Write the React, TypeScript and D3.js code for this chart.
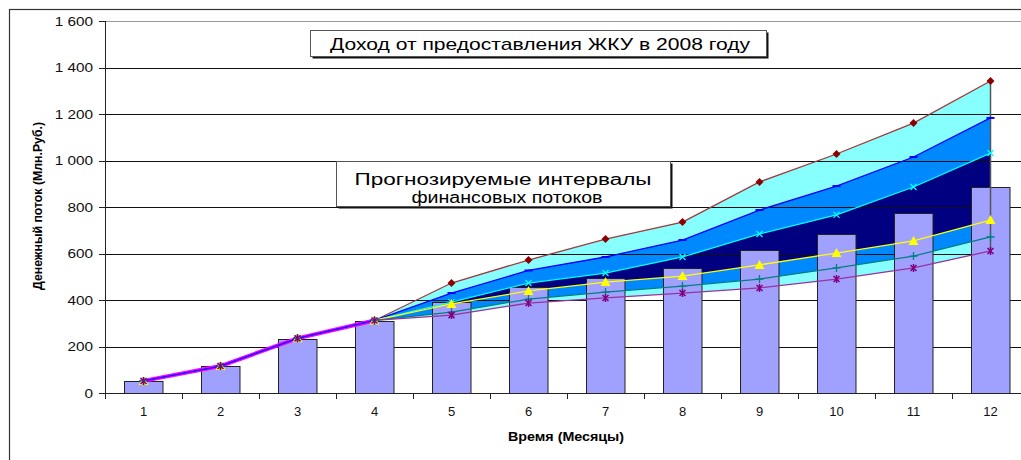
import React, { useRef, useEffect } from 'react';
import * as d3 from 'd3';

const months = [1, 2, 3, 4, 5, 6, 7, 8, 9, 10, 11, 12];
const income = [50, 114, 232, 310, 392, 456, 495, 538, 615, 684, 774, 886];

const upperMax = [52, 116, 235, 312, 473, 572, 662, 735, 908, 1028, 1161, 1342];
const upperMid = [52, 116, 235, 312, 430, 527, 585, 658, 787, 890, 1015, 1183];
const upperLow = [52, 116, 235, 312, 391, 473, 516, 585, 684, 766, 886, 1032];
const lowerHigh = [52, 116, 235, 312, 383, 439, 477, 503, 551, 602, 654, 744];
const lowerMid = [52, 116, 235, 312, 348, 404, 434, 460, 490, 538, 589, 671];
const lowerMin = [52, 116, 235, 312, 335, 387, 409, 430, 452, 490, 538, 611];

const yTicks = [0, 200, 400, 600, 800, 1000, 1200, 1400, 1600];

const series = [
    { values: upperMax, fill: '#88ffff', line: '#a03a3a', marker: 'diamond', mcolor: '#8b0000' },
    { values: upperMid, fill: '#0088ff', line: '#0000ff', marker: 'dash', mcolor: '#0000ff' },
    { values: upperLow, fill: '#000080', line: '#00ffff', marker: 'x', mcolor: '#00ffff' },
    { values: lowerHigh, fill: '#0088ff', line: '#ffff00', marker: 'triangle', mcolor: '#ffff00' },
    { values: lowerMid, fill: '#88ffff', line: '#008080', marker: 'plus', mcolor: '#008080' },
    { values: lowerMin, fill: '#ffffff', line: '#993399', marker: 'star', mcolor: '#800080' },
];

const fmt = (v: number) => d3.format(',')(v).replace(/,/g, ' ');

const W = 1021, H = 460;
const FONT = 'Arial, "Liberation Sans", sans-serif';

const App = () => {
    const svgRef = useRef<SVGSVGElement>(null);

    useEffect(() => {
        const svg = d3.select(svgRef.current);
        svg.selectAll('*').remove();

        const x = d3.scaleBand<number>()
            .domain(months)
            .range([105, 105 + 12 * 77])
            .paddingInner(0.5)
            .paddingOuter(0.25);
        const cx = (m: number) => (x(m) as number) + x.bandwidth() / 2;
        const y = d3.scaleLinear().domain([0, 1600]).range([393, 21]);

        // outer frame
        svg.append('rect').attr('x', 9.5).attr('y', 9.5).attr('width', 1100).attr('height', 600)
            .attr('fill', 'white').attr('stroke', '#333').attr('stroke-width', 1.2);

        // forecast areas, each filled down to zero
        series.forEach(s => {
            const area = d3.area<number>()
                .x((d, i) => cx(months[i]))
                .y0(y(0))
                .y1(d => y(d));
            svg.append('path').attr('d', area(s.values)).attr('fill', s.fill);
        });

        // gridlines
        svg.append('g').selectAll('line').data(yTicks).enter().append('line')
            .attr('x1', 105).attr('x2', W)
            .attr('y1', d => Math.round(y(d)) + 0.5).attr('y2', d => Math.round(y(d)) + 0.5)
            .attr('stroke', d => d === 1600 ? '#999' : '#111').attr('stroke-width', 1);

        // bars
        svg.append('g').selectAll('rect').data(income).enter().append('rect')
            .attr('x', (d, i) => Math.round(x(months[i]) as number) + 0.5)
            .attr('y', d => Math.round(y(d)) + 0.5)
            .attr('width', x.bandwidth())
            .attr('height', d => y(0) - Math.round(y(d)))
            .attr('fill', '#a0a0ff')
            .attr('stroke', '#222').attr('stroke-width', 1);

        // edge of areas at last month
        const last = months.length - 1;
        svg.append('line')
            .attr('x1', cx(months[last])).attr('x2', cx(months[last]))
            .attr('y1', y(upperMax[last])).attr('y2', y(lowerMin[last]))
            .attr('stroke', '#555').attr('stroke-width', 1.5);

        // axes
        const axisG = svg.append('g');
        axisG.append('line').attr('x1', 105.5).attr('x2', 105.5).attr('y1', 21).attr('y2', 396)
            .attr('stroke', '#222');
        axisG.append('line').attr('x1', 105).attr('x2', W).attr('y1', 393.5).attr('y2', 393.5)
            .attr('stroke', '#222');
        axisG.selectAll('.yt').data(yTicks).enter().append('line')
            .attr('x1', 99).attr('x2', 105)
            .attr('y1', d => Math.round(y(d)) + 0.5).attr('y2', d => Math.round(y(d)) + 0.5)
            .attr('stroke', '#222');
        axisG.selectAll('.ytl').data(yTicks).enter().append('text')
            .attr('transform', d => `translate(93,${y(d) + 4.5}) scale(1.18,1)`)
            .attr('text-anchor', 'end')
            .attr('font-family', FONT).attr('font-size', 13).attr('fill', '#111')
            .text(d => fmt(d));
        axisG.selectAll('.xt').data(months).enter().append('line')
            .attr('x1', d => Math.round((x(d) as number) - x.step() * 0.25) + 0.5)
            .attr('x2', d => Math.round((x(d) as number) - x.step() * 0.25) + 0.5)
            .attr('y1', 393).attr('y2', 399)
            .attr('stroke', '#222');
        axisG.selectAll('.xtl').data(months).enter().append('text')
            .attr('x', d => cx(d)).attr('y', 416)
            .attr('text-anchor', 'middle')
            .attr('font-family', FONT).attr('font-size', 13).attr('fill', '#111')
            .text(d => d);

        // lines
        const line = d3.line<number>().x((d, i) => cx(months[i])).y(d => y(d));
        series.forEach(s => {
            svg.append('path').attr('d', line(s.values)).attr('fill', 'none')
                .attr('stroke', s.line).attr('stroke-width', 1.3);
        });
        svg.append('path').attr('d', line(lowerMin.slice(0, 4))).attr('fill', 'none')
            .attr('stroke', '#ff00ff').attr('stroke-width', 4);
        svg.append('path').attr('d', line(upperMid.slice(0, 4))).attr('fill', 'none')
            .attr('stroke', '#0000ff').attr('stroke-width', 1.3);

        // markers
        series.forEach(s => {
            const g = svg.append('g');
            s.values.forEach((v, i) => {
                const px = cx(months[i]), py = y(v);
                if (s.marker === 'diamond') {
                    g.append('path').attr('d', `M${px},${py - 4}L${px + 4},${py}L${px},${py + 4}L${px - 4},${py}Z`)
                        .attr('fill', s.mcolor);
                } else if (s.marker === 'triangle') {
                    g.append('path').attr('d', `M${px},${py - 5}L${px + 5},${py + 4}L${px - 5},${py + 4}Z`)
                        .attr('fill', s.mcolor);
                } else if (s.marker === 'dash') {
                    g.append('line').attr('x1', px - 4).attr('x2', px + 4).attr('y1', py).attr('y2', py)
                        .attr('stroke', s.mcolor).attr('stroke-width', 2);
                } else if (s.marker === 'x') {
                    g.append('path').attr('d', `M${px - 3},${py - 3}L${px + 3},${py + 3}M${px - 3},${py + 3}L${px + 3},${py - 3}`)
                        .attr('stroke', s.mcolor).attr('stroke-width', 1.3);
                } else if (s.marker === 'plus') {
                    g.append('path').attr('d', `M${px - 4},${py}L${px + 4},${py}M${px},${py - 4}L${px},${py + 4}`)
                        .attr('stroke', s.mcolor).attr('stroke-width', 1.3);
                } else if (s.marker === 'star') {
                    g.append('path').attr('d', `M${px - 3},${py - 3}L${px + 3},${py + 3}M${px - 3},${py + 3}L${px + 3},${py - 3}M${px},${py - 4}L${px},${py + 4}`)
                        .attr('stroke', s.mcolor).attr('stroke-width', 1.5);
                }
            });
        });

        // text boxes
        const box = (bx: number, by: number, bw: number, bh: number) => {
            svg.append('rect').attr('x', bx + 2.5).attr('y', by + 2.5).attr('width', bw).attr('height', bh)
                .attr('fill', '#111');
            svg.append('rect').attr('x', bx + 0.5).attr('y', by + 0.5).attr('width', bw).attr('height', bh)
                .attr('fill', 'white').attr('stroke', '#555').attr('stroke-width', 1);
        };
        box(310, 30, 456, 26);
        svg.append('text').attr('x', 540).attr('y', 50).attr('text-anchor', 'middle')
            .attr('font-family', FONT).attr('font-size', 17).attr('fill', '#000')
            .attr('textLength', 420).attr('lengthAdjust', 'spacingAndGlyphs')
            .text('Доход от предоставления ЖКУ в 2008 году');

        box(336, 161, 334, 45);
        svg.append('text').attr('x', 503).attr('y', 185).attr('text-anchor', 'middle')
            .attr('font-family', FONT).attr('font-size', 16).attr('fill', '#000')
            .attr('textLength', 297).attr('lengthAdjust', 'spacingAndGlyphs')
            .text('Прогнозируемые интервалы');
        svg.append('text').attr('x', 507).attr('y', 203).attr('text-anchor', 'middle')
            .attr('font-family', FONT).attr('font-size', 16).attr('fill', '#000')
            .attr('textLength', 191).attr('lengthAdjust', 'spacingAndGlyphs')
            .text('финансовых потоков');

        // axis titles
        svg.append('text').attr('transform', 'translate(42,206) rotate(-90)')
            .attr('text-anchor', 'middle')
            .attr('font-family', FONT).attr('font-size', 12).attr('font-weight', 'bold').attr('fill', '#000')
            .attr('textLength', 168).attr('lengthAdjust', 'spacingAndGlyphs')
            .text('Денежный поток (Млн.Руб.)');
        svg.append('text').attr('x', 566).attr('y', 441).attr('text-anchor', 'middle')
            .attr('font-family', FONT).attr('font-size', 12).attr('font-weight', 'bold').attr('fill', '#000')
            .attr('textLength', 116).attr('lengthAdjust', 'spacingAndGlyphs')
            .text('Время (Месяцы)');
    }, []);

    return (
        <svg ref={svgRef} width={W} height={H}
            style={{ position: 'absolute', left: 0, top: 0, background: 'white' }} />
    );
};

export default App;
